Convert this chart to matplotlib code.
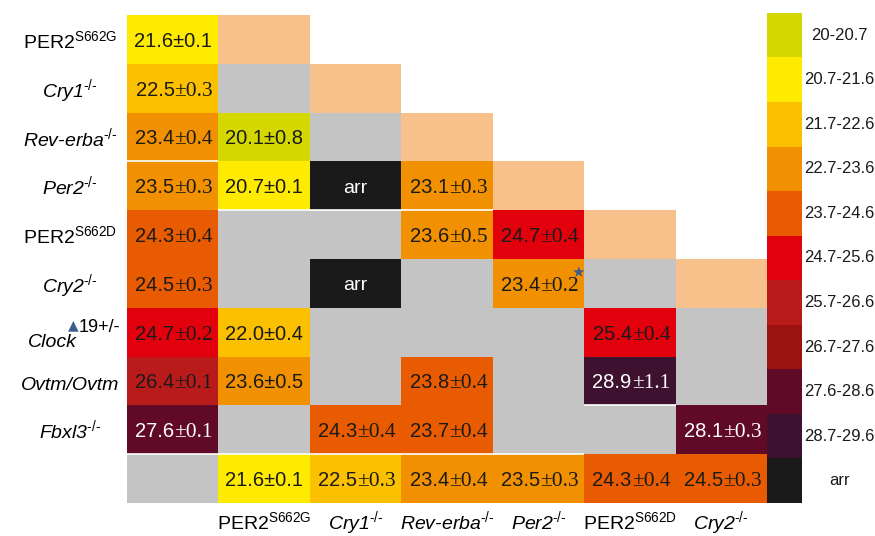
import numpy as np
import matplotlib
matplotlib.use("Agg")
import matplotlib.pyplot as plt
from matplotlib import colors, transforms

plt.rcParams['font.family'] = ['Liberation Sans', 'DejaVu Sans']
plt.rcParams['mathtext.fontset'] = 'custom'
plt.rcParams['mathtext.rm'] = 'Liberation Sans'
plt.rcParams['mathtext.it'] = 'Liberation Sans:italic'

# rows: single mutants (left column values), columns: crossed mutants
row_names = ["PER2", "Cry1", "Rev-erba", "Per2", "PER2", "Cry2", "Clock", "Ovtm/Ovtm", "Fbxl3", ""]
row_sups = ["S662G", "-/-", "-/-", "-/-", "S662D", "-/-", "19+/-", "", "-/-", ""]
col_names = ["", "PER2", "Cry1", "Rev-erba", "Per2", "PER2", "Cry2"]
col_sups = ["", "S662G", "-/-", "-/-", "-/-", "S662D", "-/-"]

# v = value, g = no data, d = diagonal, a = arrhythmic, . = empty
layout = ["vd.....",
          "vgd....",
          "vvgd...",
          "vvavd..",
          "vggvvd.",
          "vgagvgd",
          "vvgggvg",
          "vvgvgvg",
          "vgvvggv",
          "gvvvvvv"]

nan = np.nan
period = np.array([
    [21.6, nan, nan, nan, nan, nan, nan],
    [22.5, nan, nan, nan, nan, nan, nan],
    [23.4, 20.1, nan, nan, nan, nan, nan],
    [23.5, 20.7, nan, 23.1, nan, nan, nan],
    [24.3, nan, nan, 23.6, 24.7, nan, nan],
    [24.5, nan, nan, nan, 23.4, nan, nan],
    [24.7, 22.0, nan, nan, nan, 25.4, nan],
    [26.4, 23.6, nan, 23.8, nan, 28.9, nan],
    [27.6, nan, 24.3, 23.7, nan, nan, 28.1],
    [nan, 21.6, 22.5, 23.4, 23.5, 24.3, 24.5],
])
sem = np.array([
    [0.1, nan, nan, nan, nan, nan, nan],
    [0.3, nan, nan, nan, nan, nan, nan],
    [0.4, 0.8, nan, nan, nan, nan, nan],
    [0.3, 0.1, nan, 0.3, nan, nan, nan],
    [0.4, nan, nan, 0.5, 0.4, nan, nan],
    [0.3, nan, nan, nan, 0.2, nan, nan],
    [0.2, 0.4, nan, nan, nan, 0.4, nan],
    [0.1, 0.5, nan, 0.4, nan, 1.1, nan],
    [0.1, nan, 0.4, 0.4, nan, nan, 0.3],
    [nan, 0.1, 0.3, 0.4, 0.3, 0.4, 0.3],
])

bin_edges = [20, 20.7, 21.7, 22.7, 23.7, 24.7, 25.7, 26.7, 27.6, 28.7, 29.7]
legend_labels = ["20-20.7", "20.7-21.6", "21.7-22.6", "22.7-23.6", "23.7-24.6",
                 "24.7-25.6", "25.7-26.6", "26.7-27.6", "27.6-28.6", "28.7-29.6", "arr"]

bin_colors = ['#D4D800', '#FFEB00', '#FBC000', '#F19000', '#E95B00',
              '#E1000B', '#B91A1A', '#9B1210', '#600A28', '#3E1130']
grey = '#C4C4C4'
peach = '#F8C18C'
black = '#1A1A1A'

# cells whose text was set in one font
plain_cells = {(0, 0), (2, 1), (3, 1), (6, 1), (7, 1), (9, 1)}

W, H = 875, 536
fig = plt.figure(figsize=(W / 100, H / 100), dpi=100)
ax = fig.add_axes([127 / W, 1 - 503 / H, 640 / W, 488 / H])
cmap = colors.ListedColormap(bin_colors)
norm = colors.BoundaryNorm(bin_edges, cmap.N)
ax.pcolormesh(np.ma.masked_invalid(period), cmap=cmap, norm=norm)

code = {'g': 1, 'd': 2, 'a': 3}
status = np.ma.masked_equal([[code.get(ch, 0) for ch in row] for row in layout], 0)
ax.pcolormesh(status, cmap=colors.ListedColormap([grey, peach, black]),
              norm=colors.BoundaryNorm([0.5, 1.5, 2.5, 3.5], 3))
# thin white seams between some rows
ax.hlines(3, 0, 1, color='white', lw=1.2)
ax.hlines(4, 1, 4, color='white', lw=1.2)
ax.hlines(8, 5, 6, color='white', lw=1.2)
ax.hlines(9, 0, 5, color='white', lw=1.2)
ax.set_xlim(0, 7)
ax.set_ylim(10, 0)
ax.axis('off')

for r, row in enumerate(layout):
    for c, ch in enumerate(row):
        if ch == 'a':
            ax.text(c + 0.5, r + 0.64, "arr", ha='center', va='baseline', fontsize=14, color='white')
        if ch != 'v':
            continue
        v, e = period[r, c], sem[r, c]
        tc = 'white' if norm(v) >= 8 else '#1A1A1A'
        y = r + 0.65
        if (r, c) in plain_cells:
            ax.text(c + 0.5, y, f"{v:.1f}±{e:.1f}", ha='center', va='baseline', fontsize=14.5, color=tc)
        else:
            t = ax.text(c + 0.52, y, f"{v:.1f}", ha='right', va='baseline', fontsize=14.5, color=tc)
            ax.annotate(f"±{e:.1f}", xy=(1, y), xycoords=(t, 'data'), ha='left', va='baseline',
                        fontsize=15.5, family='Liberation Serif', color=tc)

# star marker in Cry2 x Per2 cell
ax.text(4.93, 5.28, "★", ha='center', va='center', fontsize=11, color='#3B5E8C', family='DejaVu Sans')

# row labels
rt = transforms.blended_transform_factory(fig.transFigure, ax.transData)
for r, (name, sup) in enumerate(zip(row_names, row_sups)):
    if not name:
        continue
    style = 'normal' if name == "PER2" else 'italic'
    if name == "Clock":
        fig.text(52 / W, r + 0.8, name, transform=rt, ha='center', va='baseline', fontsize=14, style='italic')
        fig.text(79 / W, r + 0.5, sup, transform=rt, ha='left', va='baseline', fontsize=13)
        fig.text(73 / W, r + 0.35, "▲", transform=rt, ha='center', va='center', fontsize=10,
                 color='#3B5E8C', family='DejaVu Sans')
        continue
    label = name + (r"$^{\text{%s}}$" % sup if sup else "")
    fig.text(70 / W, r + 0.68, label, transform=rt, ha='center', va='baseline', fontsize=14, style=style)

# column labels
ct = transforms.blended_transform_factory(ax.transData, fig.transFigure)
for c, (name, sup) in enumerate(zip(col_names, col_sups)):
    if not name:
        continue
    style = 'normal' if name == "PER2" else 'italic'
    label = name + (r"$^{\text{%s}}$" % sup if sup else "")
    fig.text(c + 0.5, 1 - 529 / H, label, transform=ct, ha='center', va='baseline', fontsize=14, style=style)

# legend bar
lax = fig.add_axes([767 / W, 1 - 503 / H, 35 / W, 490 / H])
lax.imshow(np.arange(len(legend_labels)).reshape(-1, 1), aspect='auto',
           cmap=colors.ListedColormap(bin_colors + [black]), extent=(0, 1, len(legend_labels), 0))
for i, lab in enumerate(legend_labels):
    lax.text(2.06, i + 0.5, lab, ha='center', va='center', fontsize=12, color='#1A1A1A')
lax.set_xlim(0, 1)
lax.set_ylim(len(legend_labels), 0)
lax.axis('off')

fig.savefig("out.png", dpi=100)
